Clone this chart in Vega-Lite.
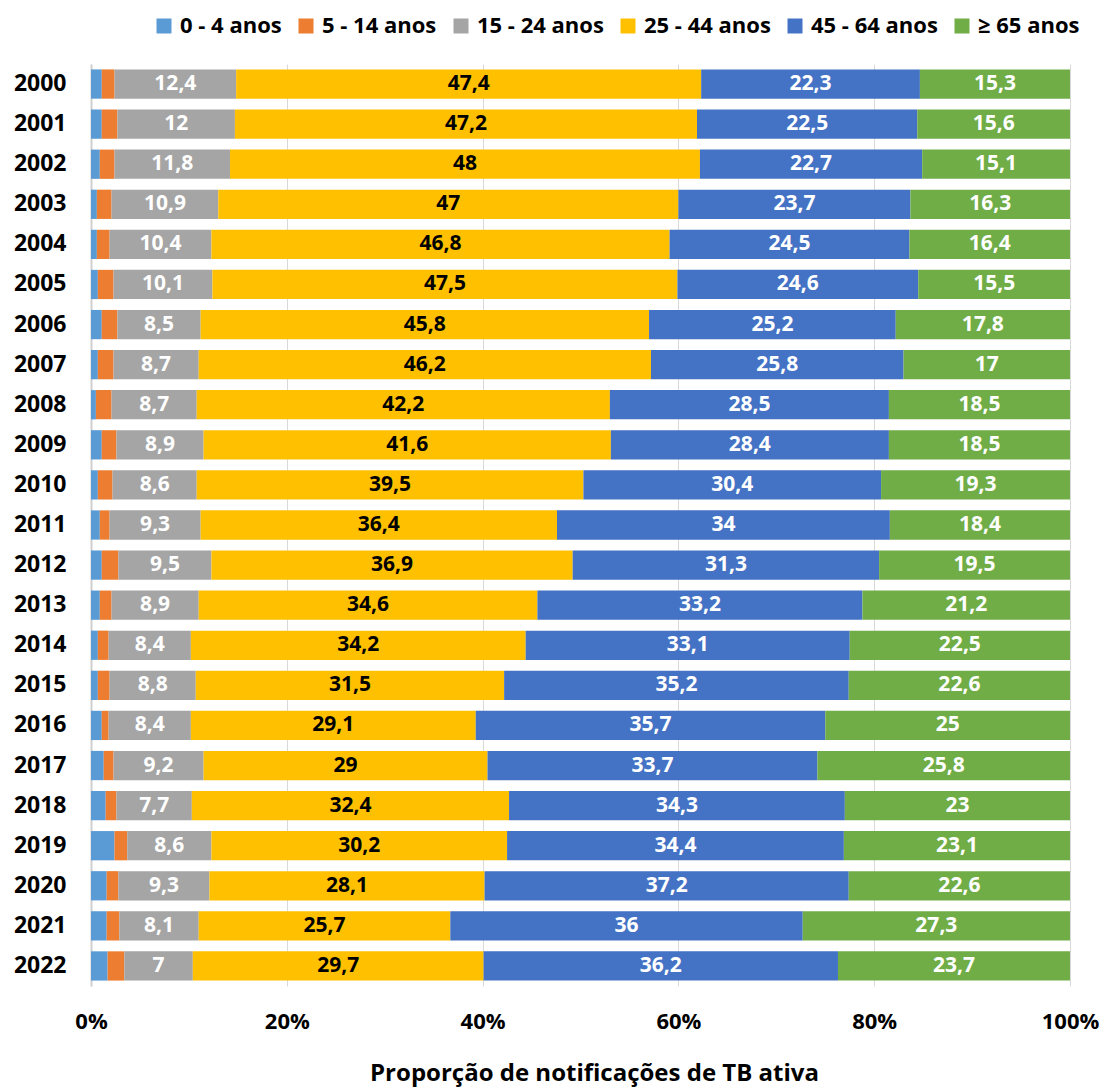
{
  "$schema": "https://vega.github.io/schema/vega-lite/v6.json",
  "width": 979,
  "height": 922,
  "autosize": {"type": "none"},
  "padding": {"left": 91, "top": 64, "right": 32, "bottom": 102},
  "background": "white",
  "config": {
    "view": {"stroke": null},
    "font": "Open Sans",
    "locale": {"number": {"decimal": ",", "thousands": ".", "grouping": [3], "currency": ["", " €"]}}
  },
  "data": {"values": [
    {"ano":"2000","grupo":"0 - 4 anos","ordem":1,"valor":1.1},{"ano":"2000","grupo":"5 - 14 anos","ordem":2,"valor":1.3},{"ano":"2000","grupo":"15 - 24 anos","ordem":3,"valor":12.4},{"ano":"2000","grupo":"25 - 44 anos","ordem":4,"valor":47.4},{"ano":"2000","grupo":"45 - 64 anos","ordem":5,"valor":22.3},{"ano":"2000","grupo":"≥ 65 anos","ordem":6,"valor":15.3},
    {"ano":"2001","grupo":"0 - 4 anos","ordem":1,"valor":1.1},{"ano":"2001","grupo":"5 - 14 anos","ordem":2,"valor":1.6},{"ano":"2001","grupo":"15 - 24 anos","ordem":3,"valor":12},{"ano":"2001","grupo":"25 - 44 anos","ordem":4,"valor":47.2},{"ano":"2001","grupo":"45 - 64 anos","ordem":5,"valor":22.5},{"ano":"2001","grupo":"≥ 65 anos","ordem":6,"valor":15.6},
    {"ano":"2002","grupo":"0 - 4 anos","ordem":1,"valor":0.9},{"ano":"2002","grupo":"5 - 14 anos","ordem":2,"valor":1.5},{"ano":"2002","grupo":"15 - 24 anos","ordem":3,"valor":11.8},{"ano":"2002","grupo":"25 - 44 anos","ordem":4,"valor":48},{"ano":"2002","grupo":"45 - 64 anos","ordem":5,"valor":22.7},{"ano":"2002","grupo":"≥ 65 anos","ordem":6,"valor":15.1},
    {"ano":"2003","grupo":"0 - 4 anos","ordem":1,"valor":0.6},{"ano":"2003","grupo":"5 - 14 anos","ordem":2,"valor":1.5},{"ano":"2003","grupo":"15 - 24 anos","ordem":3,"valor":10.9},{"ano":"2003","grupo":"25 - 44 anos","ordem":4,"valor":47},{"ano":"2003","grupo":"45 - 64 anos","ordem":5,"valor":23.7},{"ano":"2003","grupo":"≥ 65 anos","ordem":6,"valor":16.3},
    {"ano":"2004","grupo":"0 - 4 anos","ordem":1,"valor":0.6},{"ano":"2004","grupo":"5 - 14 anos","ordem":2,"valor":1.3},{"ano":"2004","grupo":"15 - 24 anos","ordem":3,"valor":10.4},{"ano":"2004","grupo":"25 - 44 anos","ordem":4,"valor":46.8},{"ano":"2004","grupo":"45 - 64 anos","ordem":5,"valor":24.5},{"ano":"2004","grupo":"≥ 65 anos","ordem":6,"valor":16.4},
    {"ano":"2005","grupo":"0 - 4 anos","ordem":1,"valor":0.7},{"ano":"2005","grupo":"5 - 14 anos","ordem":2,"valor":1.6},{"ano":"2005","grupo":"15 - 24 anos","ordem":3,"valor":10.1},{"ano":"2005","grupo":"25 - 44 anos","ordem":4,"valor":47.5},{"ano":"2005","grupo":"45 - 64 anos","ordem":5,"valor":24.6},{"ano":"2005","grupo":"≥ 65 anos","ordem":6,"valor":15.5},
    {"ano":"2006","grupo":"0 - 4 anos","ordem":1,"valor":1.1},{"ano":"2006","grupo":"5 - 14 anos","ordem":2,"valor":1.6},{"ano":"2006","grupo":"15 - 24 anos","ordem":3,"valor":8.5},{"ano":"2006","grupo":"25 - 44 anos","ordem":4,"valor":45.8},{"ano":"2006","grupo":"45 - 64 anos","ordem":5,"valor":25.2},{"ano":"2006","grupo":"≥ 65 anos","ordem":6,"valor":17.8},
    {"ano":"2007","grupo":"0 - 4 anos","ordem":1,"valor":0.7},{"ano":"2007","grupo":"5 - 14 anos","ordem":2,"valor":1.6},{"ano":"2007","grupo":"15 - 24 anos","ordem":3,"valor":8.7},{"ano":"2007","grupo":"25 - 44 anos","ordem":4,"valor":46.2},{"ano":"2007","grupo":"45 - 64 anos","ordem":5,"valor":25.8},{"ano":"2007","grupo":"≥ 65 anos","ordem":6,"valor":17},
    {"ano":"2008","grupo":"0 - 4 anos","ordem":1,"valor":0.5},{"ano":"2008","grupo":"5 - 14 anos","ordem":2,"valor":1.6},{"ano":"2008","grupo":"15 - 24 anos","ordem":3,"valor":8.7},{"ano":"2008","grupo":"25 - 44 anos","ordem":4,"valor":42.2},{"ano":"2008","grupo":"45 - 64 anos","ordem":5,"valor":28.5},{"ano":"2008","grupo":"≥ 65 anos","ordem":6,"valor":18.5},
    {"ano":"2009","grupo":"0 - 4 anos","ordem":1,"valor":1.1},{"ano":"2009","grupo":"5 - 14 anos","ordem":2,"valor":1.5},{"ano":"2009","grupo":"15 - 24 anos","ordem":3,"valor":8.9},{"ano":"2009","grupo":"25 - 44 anos","ordem":4,"valor":41.6},{"ano":"2009","grupo":"45 - 64 anos","ordem":5,"valor":28.4},{"ano":"2009","grupo":"≥ 65 anos","ordem":6,"valor":18.5},
    {"ano":"2010","grupo":"0 - 4 anos","ordem":1,"valor":0.7},{"ano":"2010","grupo":"5 - 14 anos","ordem":2,"valor":1.5},{"ano":"2010","grupo":"15 - 24 anos","ordem":3,"valor":8.6},{"ano":"2010","grupo":"25 - 44 anos","ordem":4,"valor":39.5},{"ano":"2010","grupo":"45 - 64 anos","ordem":5,"valor":30.4},{"ano":"2010","grupo":"≥ 65 anos","ordem":6,"valor":19.3},
    {"ano":"2011","grupo":"0 - 4 anos","ordem":1,"valor":0.9},{"ano":"2011","grupo":"5 - 14 anos","ordem":2,"valor":1},{"ano":"2011","grupo":"15 - 24 anos","ordem":3,"valor":9.3},{"ano":"2011","grupo":"25 - 44 anos","ordem":4,"valor":36.4},{"ano":"2011","grupo":"45 - 64 anos","ordem":5,"valor":34},{"ano":"2011","grupo":"≥ 65 anos","ordem":6,"valor":18.4},
    {"ano":"2012","grupo":"0 - 4 anos","ordem":1,"valor":1.1},{"ano":"2012","grupo":"5 - 14 anos","ordem":2,"valor":1.7},{"ano":"2012","grupo":"15 - 24 anos","ordem":3,"valor":9.5},{"ano":"2012","grupo":"25 - 44 anos","ordem":4,"valor":36.9},{"ano":"2012","grupo":"45 - 64 anos","ordem":5,"valor":31.3},{"ano":"2012","grupo":"≥ 65 anos","ordem":6,"valor":19.5},
    {"ano":"2013","grupo":"0 - 4 anos","ordem":1,"valor":0.9},{"ano":"2013","grupo":"5 - 14 anos","ordem":2,"valor":1.2},{"ano":"2013","grupo":"15 - 24 anos","ordem":3,"valor":8.9},{"ano":"2013","grupo":"25 - 44 anos","ordem":4,"valor":34.6},{"ano":"2013","grupo":"45 - 64 anos","ordem":5,"valor":33.2},{"ano":"2013","grupo":"≥ 65 anos","ordem":6,"valor":21.2},
    {"ano":"2014","grupo":"0 - 4 anos","ordem":1,"valor":0.7},{"ano":"2014","grupo":"5 - 14 anos","ordem":2,"valor":1.1},{"ano":"2014","grupo":"15 - 24 anos","ordem":3,"valor":8.4},{"ano":"2014","grupo":"25 - 44 anos","ordem":4,"valor":34.2},{"ano":"2014","grupo":"45 - 64 anos","ordem":5,"valor":33.1},{"ano":"2014","grupo":"≥ 65 anos","ordem":6,"valor":22.5},
    {"ano":"2015","grupo":"0 - 4 anos","ordem":1,"valor":0.7},{"ano":"2015","grupo":"5 - 14 anos","ordem":2,"valor":1.2},{"ano":"2015","grupo":"15 - 24 anos","ordem":3,"valor":8.8},{"ano":"2015","grupo":"25 - 44 anos","ordem":4,"valor":31.5},{"ano":"2015","grupo":"45 - 64 anos","ordem":5,"valor":35.2},{"ano":"2015","grupo":"≥ 65 anos","ordem":6,"valor":22.6},
    {"ano":"2016","grupo":"0 - 4 anos","ordem":1,"valor":1.1},{"ano":"2016","grupo":"5 - 14 anos","ordem":2,"valor":0.7},{"ano":"2016","grupo":"15 - 24 anos","ordem":3,"valor":8.4},{"ano":"2016","grupo":"25 - 44 anos","ordem":4,"valor":29.1},{"ano":"2016","grupo":"45 - 64 anos","ordem":5,"valor":35.7},{"ano":"2016","grupo":"≥ 65 anos","ordem":6,"valor":25},
    {"ano":"2017","grupo":"0 - 4 anos","ordem":1,"valor":1.3},{"ano":"2017","grupo":"5 - 14 anos","ordem":2,"valor":1},{"ano":"2017","grupo":"15 - 24 anos","ordem":3,"valor":9.2},{"ano":"2017","grupo":"25 - 44 anos","ordem":4,"valor":29},{"ano":"2017","grupo":"45 - 64 anos","ordem":5,"valor":33.7},{"ano":"2017","grupo":"≥ 65 anos","ordem":6,"valor":25.8},
    {"ano":"2018","grupo":"0 - 4 anos","ordem":1,"valor":1.5},{"ano":"2018","grupo":"5 - 14 anos","ordem":2,"valor":1.1},{"ano":"2018","grupo":"15 - 24 anos","ordem":3,"valor":7.7},{"ano":"2018","grupo":"25 - 44 anos","ordem":4,"valor":32.4},{"ano":"2018","grupo":"45 - 64 anos","ordem":5,"valor":34.3},{"ano":"2018","grupo":"≥ 65 anos","ordem":6,"valor":23},
    {"ano":"2019","grupo":"0 - 4 anos","ordem":1,"valor":2.4},{"ano":"2019","grupo":"5 - 14 anos","ordem":2,"valor":1.3},{"ano":"2019","grupo":"15 - 24 anos","ordem":3,"valor":8.6},{"ano":"2019","grupo":"25 - 44 anos","ordem":4,"valor":30.2},{"ano":"2019","grupo":"45 - 64 anos","ordem":5,"valor":34.4},{"ano":"2019","grupo":"≥ 65 anos","ordem":6,"valor":23.1},
    {"ano":"2020","grupo":"0 - 4 anos","ordem":1,"valor":1.6},{"ano":"2020","grupo":"5 - 14 anos","ordem":2,"valor":1.2},{"ano":"2020","grupo":"15 - 24 anos","ordem":3,"valor":9.3},{"ano":"2020","grupo":"25 - 44 anos","ordem":4,"valor":28.1},{"ano":"2020","grupo":"45 - 64 anos","ordem":5,"valor":37.2},{"ano":"2020","grupo":"≥ 65 anos","ordem":6,"valor":22.6},
    {"ano":"2021","grupo":"0 - 4 anos","ordem":1,"valor":1.6},{"ano":"2021","grupo":"5 - 14 anos","ordem":2,"valor":1.3},{"ano":"2021","grupo":"15 - 24 anos","ordem":3,"valor":8.1},{"ano":"2021","grupo":"25 - 44 anos","ordem":4,"valor":25.7},{"ano":"2021","grupo":"45 - 64 anos","ordem":5,"valor":36},{"ano":"2021","grupo":"≥ 65 anos","ordem":6,"valor":27.3},
    {"ano":"2022","grupo":"0 - 4 anos","ordem":1,"valor":1.7},{"ano":"2022","grupo":"5 - 14 anos","ordem":2,"valor":1.7},{"ano":"2022","grupo":"15 - 24 anos","ordem":3,"valor":7},{"ano":"2022","grupo":"25 - 44 anos","ordem":4,"valor":29.7},{"ano":"2022","grupo":"45 - 64 anos","ordem":5,"valor":36.2},{"ano":"2022","grupo":"≥ 65 anos","ordem":6,"valor":23.7}
  ]},
  "transform": [
    {"stack": "valor", "groupby": ["ano"], "sort": [{"field": "ordem", "order": "ascending"}], "offset": "normalize", "as": ["x0", "x1"]},
    {"calculate": "(datum.x0 + datum.x1) / 2", "as": "xm"}
  ],
  "encoding": {
    "y": {
      "field": "ano", "type": "ordinal", "title": null,
      "scale": {"paddingInner": 0.27, "paddingOuter": 0.135},
      "axis": {"ticks": false, "domain": true, "domainColor": "#D0D0D0", "domainWidth": 2, "labelFont": "Open Sans", "labelFontWeight": "bold", "labelFontSize": 23, "labelColor": "#000000", "labelPadding": 25}
    }
  },
  "layer": [
    {
      "mark": {"type": "bar"},
      "encoding": {
        "x": {
          "field": "x0", "type": "quantitative", "scale": {"domain": [0, 1], "nice": false},
          "title": "Proporção de notificações de TB ativa",
          "axis": {"format": ".0%", "values": [0, 0.2, 0.4, 0.6, 0.8, 1], "grid": true, "gridColor": "#D9D9D9", "gridWidth": 1, "domain": false, "ticks": false, "labelFlush": false, "labelFont": "Open Sans", "labelFontWeight": "bold", "labelFontSize": 22, "labelColor": "#000000", "labelPadding": 25, "titleFont": "Open Sans", "titleFontWeight": "bold", "titleFontSize": 24, "titleColor": "#000000", "titlePadding": 29, "titleX": 503}
        },
        "x2": {"field": "x1"},
        "color": {
          "field": "grupo", "type": "nominal", "title": null,
          "scale": {"domain": ["0 - 4 anos", "5 - 14 anos", "15 - 24 anos", "25 - 44 anos", "45 - 64 anos", "≥ 65 anos"], "range": ["#5B9BD5", "#ED7D31", "#A5A5A5", "#FFC000", "#4472C4", "#70AD47"]},
          "legend": {"orient": "none", "legendX": 62, "legendY": -49, "direction": "horizontal", "columns": 6, "symbolType": "square", "symbolSize": 225, "symbolStrokeWidth": 0, "labelFont": "Open Sans", "labelFontWeight": "bold", "labelFontSize": 22, "labelColor": "#000000", "columnPadding": 13, "labelOffset": 5, "padding": 0, "labelLimit": 300}
        }
      }
    },
    {
      "transform": [{"filter": "datum.ordem >= 3"}],
      "mark": {"type": "text", "font": "Open Sans", "fontWeight": "bold", "fontSize": 21, "align": "center", "baseline": "middle"},
      "encoding": {
        "x": {"field": "xm", "type": "quantitative"},
        "text": {"field": "valor", "type": "quantitative", "format": ".1~f"},
        "color": {"condition": {"test": "datum.ordem == 4", "value": "#000000"}, "value": "#FFFFFF"}
      }
    }
  ]
}
